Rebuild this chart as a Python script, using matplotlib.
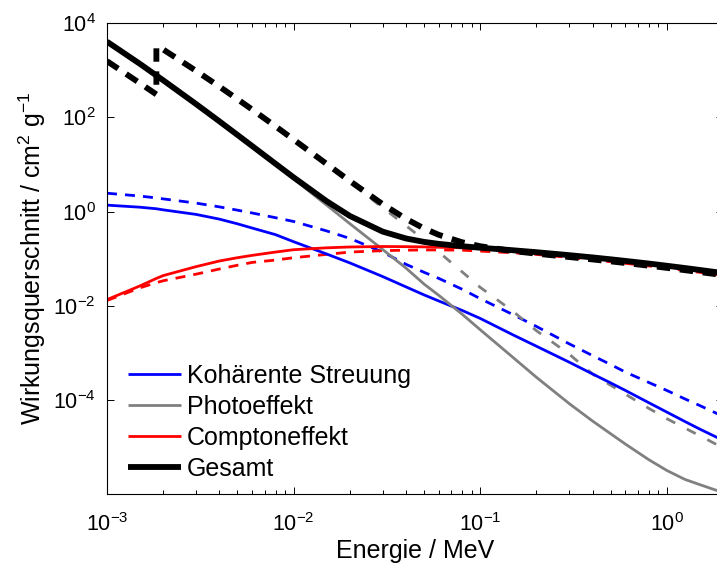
import matplotlib
matplotlib.use("Agg")
import matplotlib.pyplot as plt
import numpy as np

plt.rcParams['font.family'] = ['Liberation Sans', 'DejaVu Sans']
plt.rcParams['mathtext.fontset'] = 'custom'
plt.rcParams['mathtext.rm'] = 'Liberation Sans'
plt.rcParams['mathtext.it'] = 'Liberation Sans:italic'
plt.rcParams['mathtext.bf'] = 'Liberation Sans:bold'

# Energie in MeV (K-Kante bei 1.839 keV doppelt)
energy = [0.001, 0.0015, 0.001839, 0.001839, 0.002, 0.003, 0.004, 0.005, 0.006, 0.008,
          0.01, 0.015, 0.02, 0.03, 0.04, 0.05, 0.06, 0.08, 0.1, 0.15,
          0.2, 0.3, 0.4, 0.5, 0.6, 0.8, 1.0, 1.25, 1.5, 2.0]

# log10 der Wirkungsquerschnitte in cm^2/g, abgelesen
# durchgezogen
solid_coh = [0.137, 0.093, 0.06, 0.06, 0.037, -0.06, -0.16, -0.26, -0.35, -0.49,
             -0.64, -0.90, -1.09, -1.38, -1.60, -1.77, -1.90, -2.10, -2.27, -2.62,
             -2.86, -3.20, -3.45, -3.64, -3.80, -4.06, -4.26, -4.46, -4.62, -4.86]
solid_photo = [3.610, 3.138, 2.890, 2.890, 2.789, 2.283, 1.914, 1.622, 1.380, 0.999,
               0.694, 0.140, -0.256, -0.805, -1.20, -1.54, -1.78, -2.18, -2.51, -3.10,
               -3.52, -4.08, -4.45, -4.72, -4.94, -5.27, -5.50, -5.69, -5.80, -5.97]
solid_compton = [-1.87, -1.58, -1.42, -1.42, -1.36, -1.17, -1.05, -0.98, -0.93, -0.86,
                 -0.81, -0.77, -0.752, -0.742, -0.745, -0.75, -0.758, -0.77, -0.79, -0.83,
                 -0.866, -0.928, -0.975, -1.015, -1.049, -1.105, -1.151, -1.199, -1.240, -1.306]
solid_total = [3.610, 3.139, 2.891, 2.891, 2.790, 2.285, 1.918, 1.629, 1.392, 1.016,
               0.727, 0.223, -0.092, -0.425, -0.571, -0.644, -0.686, -0.736, -0.768, -0.822,
               -0.863, -0.926, -0.974, -1.014, -1.048, -1.104, -1.151, -1.199, -1.240, -1.306]
# gestrichelt
dash_coh = [0.39, 0.33, 0.29, 0.29, 0.27, 0.18, 0.10, 0.03, -0.03, -0.13,
            -0.21, -0.41, -0.57, -0.86, -1.12, -1.29, -1.42, -1.65, -1.85, -2.19,
            -2.44, -2.81, -3.06, -3.25, -3.41, -3.63, -3.80, -3.98, -4.12, -4.35]
dash_photo = [3.195, 2.727, 2.488, 3.504, 3.443, 2.990, 2.655, 2.387, 2.164, 1.806,
              1.522, 1.0, 0.624, 0.085, -0.30, -0.60, -0.86, -1.28, -1.61, -2.12,
              -2.53, -3.03, -3.45, -3.69, -3.88, -4.18, -4.40, -4.60, -4.76, -5.02]
dash_compton = [-1.89, -1.62, -1.51, -1.51, -1.47, -1.33, -1.22, -1.14, -1.08, -1.03,
                -0.98, -0.91, -0.86, -0.83, -0.82, -0.815, -0.815, -0.82, -0.84, -0.875,
                -0.91, -0.975, -1.025, -1.065, -1.10, -1.155, -1.20, -1.25, -1.29, -1.355]
dash_total = [3.196, 2.728, 2.490, 3.504, 3.444, 2.990, 2.656, 2.389, 2.167, 1.811,
              1.530, 1.015, 0.650, 0.157, -0.154, -0.358, -0.494, -0.652, -0.736, -0.839,
              -0.894, -0.966, -1.017, -1.058, -1.093, -1.150, -1.196, -1.245, -1.285, -1.349]

labels = ['Kohärente Streuung', 'Photoeffekt', 'Comptoneffekt', 'Gesamt']
colors = ['#0000ff', '#808080', '#ff0000', '#000000']
widths = [2, 2, 2, 4.2]
# Strichmuster in Vielfachen der Linienbreite (Offset, (an, aus))
dash_styles = [(0, (3.6, 2.9)), (7.685, (3.6, 4.7)), (0, (3.6, 2.9)), (0, (2.3, 1.65))]

fig = plt.figure(figsize=(7.17, 5.67), dpi=100)
ax = fig.add_axes([107/717, 1 - 494/567, 616/717, 470.7/567])

E = np.array(energy)
dashed = [dash_coh, dash_photo, dash_compton, dash_total]
solid = [solid_coh, solid_photo, solid_compton, solid_total]

for vals, c, w, ls in zip(dashed, colors, widths, dash_styles):
    ax.loglog(E, 10 ** np.array(vals), color=c, lw=w, linestyle=ls)

handles = []
for vals, c, w, lab in zip(solid, colors, widths, labels):
    ln, = ax.loglog(E, 10 ** np.array(vals), color=c, lw=w, label=lab,
                    solid_capstyle='butt')
    handles.append(ln)

ax.set_xlim(1e-3, 2)
ax.set_ylim(1e-6, 1e4)
ax.set_yticks([1e-6, 1e-4, 1e-2, 1e0, 1e2, 1e4])
ax.set_yticklabels(['', r'$10^{-4}$', r'$10^{-2}$', r'$10^{0}$', r'$10^{2}$', r'$10^{4}$'])
ax.yaxis.set_minor_locator(matplotlib.ticker.NullLocator())
ax.set_xticks([1e-3, 1e-2, 1e-1, 1e0])
ax.set_xticklabels([r'$10^{-3}$', r'$10^{-2}$', r'$10^{-1}$', r'$10^{0}$'])

ax.tick_params(which='both', direction='in', top=True, right=True, width=0.7,
               labelsize=15.5)
ax.tick_params(which='major', length=5)
ax.tick_params(axis='x', which='major', pad=14)
ax.tick_params(axis='y', which='major', pad=8)
ax.tick_params(which='minor', length=3)
for s in ax.spines.values():
    s.set_linewidth(0.8)

ax.set_xlabel('Energie / MeV', fontsize=18, labelpad=2)
ax.set_ylabel(r'Wirkungsquerschnitt / cm$^2$ g$^{-1}$', fontsize=18, labelpad=4)

ax.legend(handles=handles, loc='lower left', bbox_to_anchor=(0.034, 0.028),
          frameon=False, fontsize=18, handlelength=2.12, handletextpad=0.24,
          labelspacing=0.28, borderpad=0, borderaxespad=0)

fig.savefig('out.png', dpi=100)
